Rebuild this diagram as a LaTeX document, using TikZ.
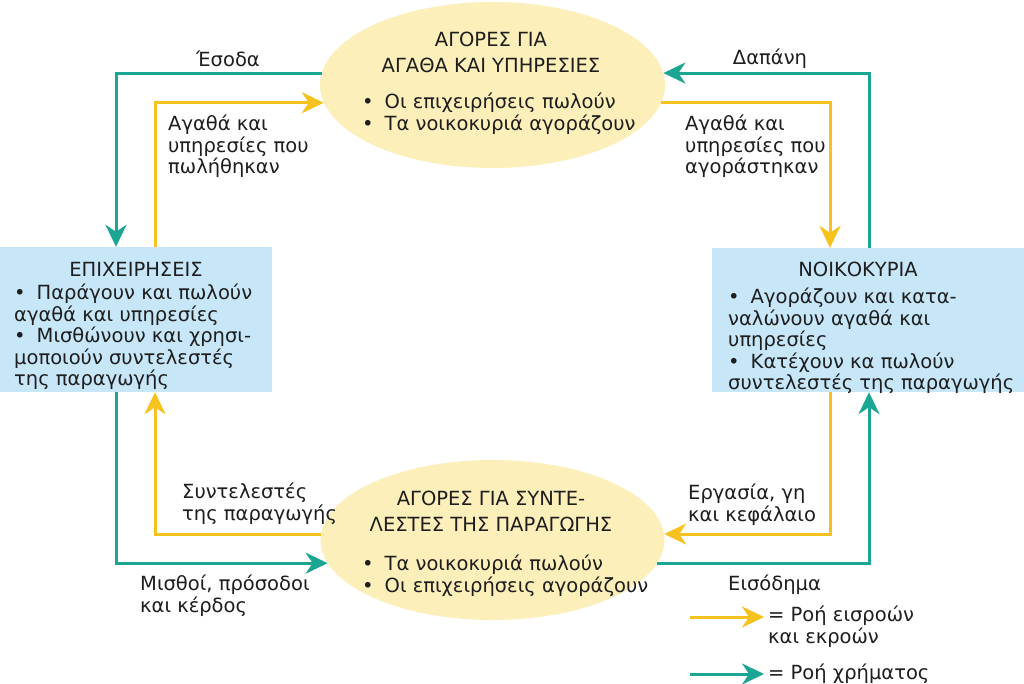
\documentclass[tikz,border=0pt]{standalone}
\usepackage{fontspec}
\setmainfont{DejaVu Sans}
\usetikzlibrary{shapes.geometric,arrows.meta}
\definecolor{teal1}{RGB}{26,166,146}
\definecolor{yel1}{RGB}{246,195,30}
\definecolor{ellfill}{RGB}{252,239,186}
\definecolor{boxfill}{RGB}{199,231,248}
\definecolor{txt}{RGB}{30,30,30}
\newcommand{\bul}{•\hspace{11pt}}
\tikzset{
  tip/.tip={Stealth[length=22pt,width=21pt,inset=7pt]},
  money/.style={draw=teal1,line width=3pt,-tip},
  goods/.style={draw=yel1,line width=3pt,-tip},
  market/.style={ellipse,fill=ellfill,draw=none,inner sep=0pt},
  sector/.style={rectangle,fill=boxfill,draw=none,inner sep=0pt},
  lbl/.style={inner sep=0pt,align=left,text=txt,font={\fontsize{19.5}{21.5}\selectfont}},
  ttl/.style={inner sep=0pt,align=center,text=txt,font={\fontsize{19.5}{25.5}\selectfont}},
}
\begin{document}
\begin{tikzpicture}[x=1pt,y=-1pt]
\useasboundingbox[fill=white] (0,0) rectangle (1024,683);
% nodes
\node[market,minimum width=345pt,minimum height=166pt] (mg) at (492.5,85) {};
\node[market,minimum width=344pt,minimum height=160pt] (mf) at (492.5,540) {};
\node[sector,minimum width=272pt,minimum height=145pt] (firms) at (136,319.5) {};
\node[sector,minimum width=312pt,minimum height=144pt] (hh) at (868,320) {};
% texts in markets
\node[ttl,anchor=north] (mgt) at (491,32) {ΑΓΟΡΕΣ ΓΙΑ\\ΑΓΑΘΑ ΚΑΙ ΥΠΗΡΕΣΙΕΣ};
\node[lbl,anchor=north west] (mgb) at (362,93) {\bul Οι επιχειρήσεις πωλούν\\\bul Τα νοικοκυριά αγοράζουν};
\node[ttl,anchor=north] (mft) at (491,491) {ΑΓΟΡΕΣ ΓΙΑ ΣΥΝΤΕ-\\ΛΕΣΤΕΣ ΤΗΣ ΠΑΡΑΓΩΓΗΣ};
\node[lbl,anchor=north west] (mfb) at (362,555) {\bul Τα νοικοκυριά πωλούν\\\bul Οι επιχειρήσεις αγοράζουν};
% texts in sectors
\node[lbl,anchor=north] (firmst) at (136,262) {ΕΠΙΧΕΙΡΗΣΕΙΣ};
\node[lbl,anchor=north west] (firmsb) at (14,284) {\bul Παράγουν και πωλούν\\αγαθά και υπηρεσίες\\\bul Μισθώνουν και χρησι-\\μοποιούν συντελεστές\\της παραγωγής};
\node[lbl,anchor=north] (hht) at (858,262) {ΝΟΙΚΟΚΥΡΙΑ};
\node[lbl,anchor=north west] (hhb) at (728,288) {\bul Αγοράζουν και κατα-\\ναλώνουν αγαθά και\\υπηρεσίες\\\bul Κατέχουν κα πωλούν\\συντελεστές της παραγωγής};
% connectors
\draw[money] (mg.176) -| ([xshift=-20pt]firms.north);
\draw[goods] ([xshift=19pt]firms.north) |- (mg.186);
\draw[money] ([xshift=1pt]hh.north) |- (mg.4);
\draw[goods] (mg.354) -| ([xshift=-38pt]hh.north);
\draw[money] ([xshift=-20pt]firms.south) |- (mf.188);
\draw[goods] (mf.178) -| ([xshift=19pt]firms.south);
\draw[goods] ([xshift=-38pt]hh.south) |- (mf.2);
\draw[money] (mf.352) -| ([xshift=1pt]hh.south);
% connector labels
\node[lbl,anchor=center] (l1) at (228,59) {Έσοδα};
\node[lbl,anchor=center] (l2) at (770,59) {Δαπάνη};
\node[lbl,anchor=north west] (l3) at (168,115) {Αγαθά και\\υπηρεσίες που\\πωλήθηκαν};
\node[lbl,anchor=north west] (l4) at (685,115) {Αγαθά και\\υπηρεσίες που\\αγοράστηκαν};
\node[lbl,anchor=north west] (l5) at (182,483) {Συντελεστές\\της παραγωγής};
\node[lbl,anchor=north west] (l6) at (688,484) {Εργασία, γη\\και κεφάλαιο};
\node[lbl,anchor=north west] (l7) at (140,575) {Μισθοί, πρόσοδοι\\και κέρδος};
\node[lbl,anchor=north west] (l8) at (728,575) {Εισόδημα};
% legend
\coordinate (ly1) at (690,617);
\coordinate (ly2) at (764,617);
\coordinate (lt1) at (690,674);
\coordinate (lt2) at (764,674);
\draw[goods] (ly1) -- (ly2);
\draw[money] (lt1) -- (lt2);
\node[lbl,anchor=north west] (lg1) at (768,606) {= Ροή εισροών\\και εκροών};
\node[lbl,anchor=west] (lg2) at (768,674) {= Ροή χρήματος};
\end{tikzpicture}
\end{document}
